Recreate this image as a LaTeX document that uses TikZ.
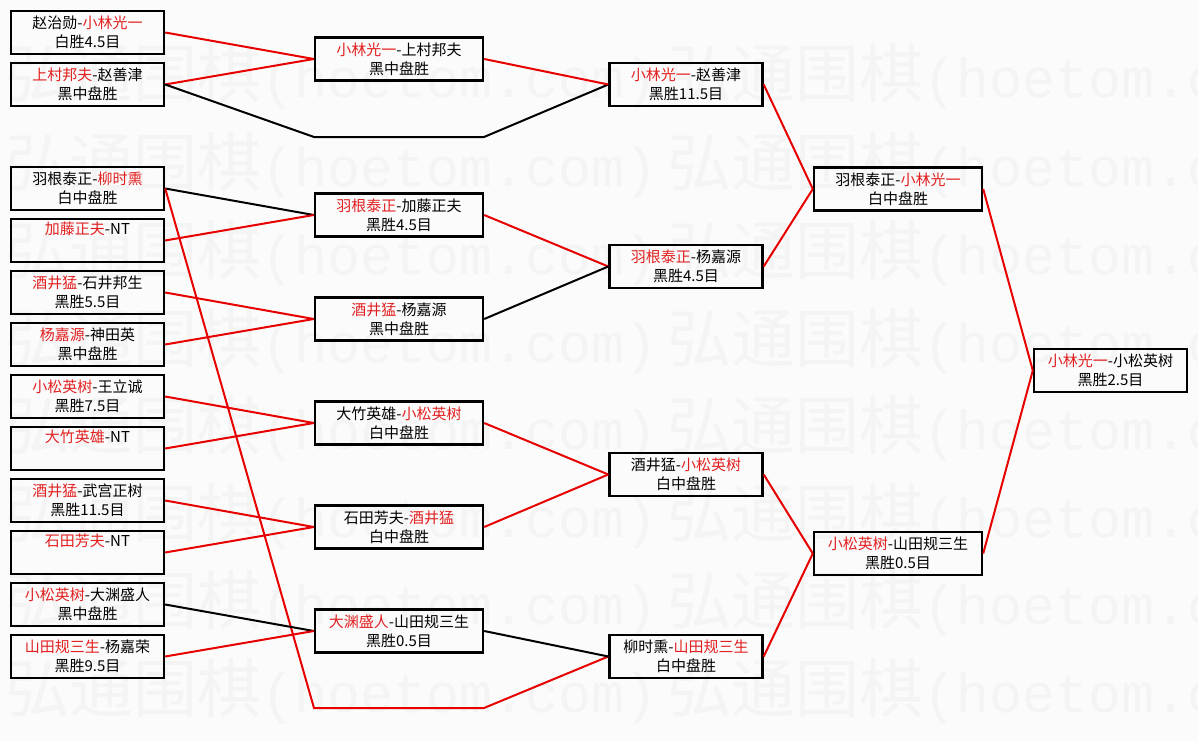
\documentclass[tikz,border=0pt]{standalone}
\usepackage{fontspec}
\setmainfont{Noto Sans CJK SC}
\newfontfamily\wmlatin{Liberation Mono}
\usepackage{xcolor}
\usepackage{tikz}
\usetikzlibrary{positioning,calc}

\definecolor{winred}{RGB}{226,32,32}
\definecolor{linered}{RGB}{232,0,0}
\definecolor{wmgray}{RGB}{244,244,244}
\definecolor{pagebg}{RGB}{251,251,251}
\newcommand{\win}[1]{\textcolor{winred}{#1}}
\newcommand{\wmone}{{\fontsize{64}{64}\selectfont 弘通围棋}{\wmlatin\fontsize{55}{55}\selectfont (hoetom.com)}}
\newcommand{\wmrow}{\makebox[662pt][l]{\wmone}\wmone}

\begin{document}
\begin{tikzpicture}[
    x=1pt,y=-1pt,
    match/.style={draw,line width=2.4pt,align=center,inner sep=0pt,minimum height=43pt,
      font=\fontsize{15}{19}\selectfont,execute at begin node={\rule{0pt}{23pt}}},
    narrow/.style={match,minimum width=153pt},
    wide/.style={match,minimum width=168pt},
    wmark/.style={anchor=base west,inner sep=0pt,text=wmgray},
    redline/.style={draw=linered,line width=2pt},
    blkline/.style={draw=black,line width=2pt}
  ]
    \useasboundingbox (0,0) rectangle (1198,741);
    \fill[pagebg] (0,0) rectangle (1198,741);
    \clip (0,0) rectangle (1198,741);

    % watermark rows
    \node[wmark] (wm1) at (5,98) {\wmrow};
    \node[wmark] (wm2) at (5,186) {\wmrow};
    \node[wmark] (wm3) at (5,274) {\wmrow};
    \node[wmark] (wm4) at (5,362) {\wmrow};
    \node[wmark] (wm5) at (5,449) {\wmrow};
    \node[wmark] (wm6) at (5,537) {\wmrow};
    \node[wmark] (wm7) at (5,624) {\wmrow};
    \node[wmark] (wm8) at (5,712) {\wmrow};

    % first round
    \node[narrow] (a1) at (87.5,32.5) {赵治勋-\win{小林光一}\\白胜4.5目};
    \node[narrow,below=6.6pt of a1] (a2) {\win{上村邦夫}-赵善津\\黑中盘胜};
    \node[narrow] (a3) at (87.5,188.5) {羽根泰正-\win{柳时熏}\\白中盘胜};
    \node[narrow,below=6.6pt of a3] (a4) {\win{加藤正夫}-NT\\\strut};
    \node[narrow,below=6.6pt of a4] (a5) {\win{酒井猛}-石井邦生\\黑胜5.5目};
    \node[narrow,below=6.6pt of a5] (a6) {\win{杨嘉源}-神田英\\黑中盘胜};
    \node[narrow,below=6.6pt of a6] (a7) {\win{小松英树}-王立诚\\黑胜7.5目};
    \node[narrow,below=6.6pt of a7] (a8) {\win{大竹英雄}-NT\\\strut};
    \node[narrow,below=6.6pt of a8] (a9) {\win{酒井猛}-武宫正树\\黑胜11.5目};
    \node[narrow,below=6.6pt of a9] (a10) {\win{石田芳夫}-NT\\\strut};
    \node[narrow,below=6.6pt of a10] (a11) {\win{小松英树}-大渊盛人\\黑中盘胜};
    \node[narrow,below=6.6pt of a11] (a12) {\win{山田规三生}-杨嘉荣\\黑胜9.5目};

    % second round
    \node[wide] (b1) at (399,59) {\win{小林光一}-上村邦夫\\黑中盘胜};
    \node[wide] (b2) at (399,215) {\win{羽根泰正}-加藤正夫\\黑胜4.5目};
    \node[wide] (b3) at (399,319) {\win{酒井猛}-杨嘉源\\黑中盘胜};
    \node[wide] (b4) at (399,423) {大竹英雄-\win{小松英树}\\白中盘胜};
    \node[wide] (b5) at (399,527) {石田芳夫-\win{酒井猛}\\白中盘胜};
    \node[wide] (b6) at (399,631) {\win{大渊盛人}-山田规三生\\黑胜0.5目};
    \coordinate (bye1a) at (314,137);
    \coordinate (bye1b) at (484,137);
    \coordinate (bye2a) at (314,708);
    \coordinate (bye2b) at (484,708);

    % third round
    \node[narrow] (c1) at (686,84.5) {\win{小林光一}-赵善津\\黑胜11.5目};
    \node[narrow] (c2) at (686,266.5) {\win{羽根泰正}-杨嘉源\\黑胜4.5目};
    \node[narrow] (c3) at (686,474.5) {酒井猛-\win{小松英树}\\白中盘胜};
    \node[narrow] (c4) at (686,656.5) {柳时熏-\win{山田规三生}\\白中盘胜};

    % semi final and final
    \node[wide] (d1) at (898,189) {羽根泰正-\win{小林光一}\\白中盘胜};
    \node[wide] (d2) at (898,553.5) {\win{小松英树}-山田规三生\\黑胜0.5目};
    \node[narrow] (fin) at (1110.5,370.5) {\win{小林光一}-小松英树\\黑胜2.5目};

    \draw[redline] (a1.east) -- (b1.west);
    \draw[redline] (a2.east) -- (b1.west);
    \draw[blkline] (a2.east) -- (bye1a) -- (bye1b) -- (c1.west);
    \draw[blkline] (a3.east) -- (b2.west);
    \draw[redline] (a4.east) -- (b2.west);
    \draw[redline] (a3.east) -- (bye2a) -- (bye2b) -- (c4.west);
    \draw[redline] (a5.east) -- (b3.west);
    \draw[redline] (a6.east) -- (b3.west);
    \draw[redline] (a7.east) -- (b4.west);
    \draw[redline] (a8.east) -- (b4.west);
    \draw[redline] (a9.east) -- (b5.west);
    \draw[redline] (a10.east) -- (b5.west);
    \draw[blkline] (a11.east) -- (b6.west);
    \draw[redline] (a12.east) -- (b6.west);
    \draw[redline] (b1.east) -- (c1.west);
    \draw[redline] (b2.east) -- (c2.west);
    \draw[blkline] (b3.east) -- (c2.west);
    \draw[redline] (b4.east) -- (c3.west);
    \draw[redline] (b5.east) -- (c3.west);
    \draw[blkline] (b6.east) -- (c4.west);
    \draw[redline] (c1.east) -- (d1.west);
    \draw[redline] (c2.east) -- (d1.west);
    \draw[redline] (c3.east) -- (d2.west);
    \draw[redline] (c4.east) -- (d2.west);
    \draw[redline] (d1.east) -- (fin.west);
    \draw[redline] (d2.east) -- (fin.west);
  \end{tikzpicture}
\end{document}
